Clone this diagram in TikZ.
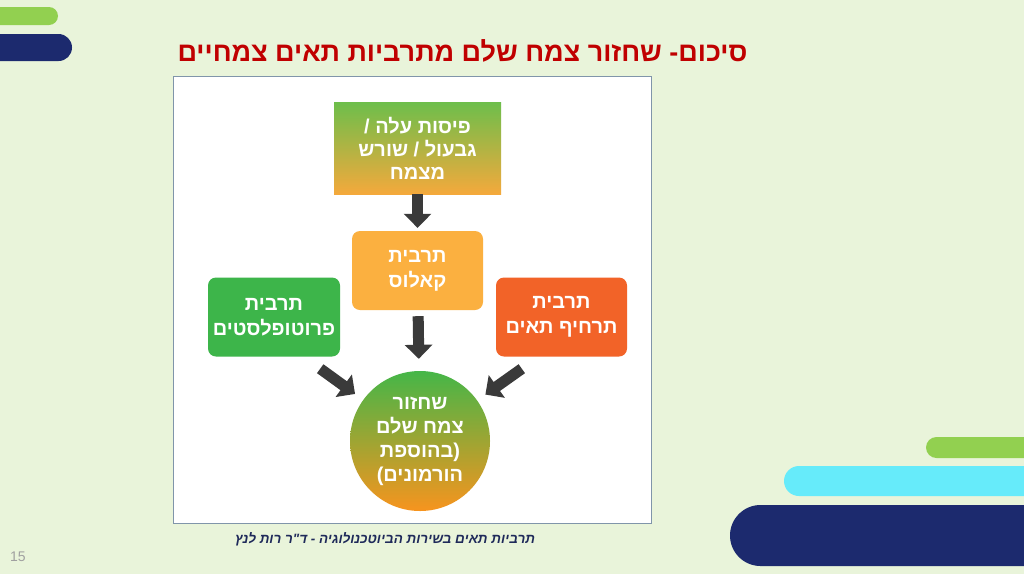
\documentclass[tikz,border=0pt]{standalone}
\usepackage{fontspec}
\setmainfont{Liberation Sans}
\newfontfamily\hebfont[Script=Hebrew]{Liberation Sans}
\TeXXeTstate=1
\usepackage{tikz}
\usetikzlibrary{arrows.meta, calc, positioning}
\definecolor{slidebg}{HTML}{E9F4DA}
\definecolor{barnavy}{HTML}{1C2A6E}
\definecolor{bargreen}{HTML}{92D050}
\definecolor{barcyan}{HTML}{66EBFA}
\definecolor{titlered}{HTML}{C00000}
\definecolor{capnavy}{HTML}{1F2A5A}
\definecolor{framegray}{HTML}{8095AA}
\definecolor{leafgreen}{HTML}{6DBE4B}
\definecolor{leaforange}{HTML}{F4A93C}
\definecolor{calorange}{HTML}{FBB040}
\definecolor{protogreen}{HTML}{3DB54A}
\definecolor{suspred}{HTML}{F26328}
\definecolor{regengreen}{HTML}{45B648}
\definecolor{regenorange}{HTML}{F7941E}
\definecolor{arrgray}{HTML}{3A3A3A}
\definecolor{pagegray}{HTML}{A0A0A0}

\begin{document}
\begin{tikzpicture}[x=1pt, y=-1pt,
  stagebox/.style = {rounded corners=8pt, minimum width=132pt, minimum height=79pt, align=center, text=white, font=\hebfont\bfseries\fontsize{20}{25}\selectfont},
  blockarr/.style = {-{Triangle[length=14pt,width=27pt]}, line width=11pt, color=arrgray},
  bar/.style      = {rounded corners=#1},
]
\useasboundingbox (0,0) rectangle (1024,574);
\fill[slidebg] (0,0) rectangle (1024,574);
% slide bars
\fill[bargreen, bar=9pt] (-20,7) rectangle (58,25);
\fill[barnavy, bar=13.5pt] (-20,34) rectangle (72,61);
\fill[bargreen, bar=10.5pt] (926,437) rectangle (1044,458);
\fill[barcyan, bar=15pt] (784,466) rectangle (1044,496);
\fill[barnavy, bar=30.5pt] (730,505) rectangle (1074,566);
% title
\node[anchor=east, text=titlered, font=\hebfont\bfseries\fontsize{27}{31}\selectfont] (title) at (751,51) {\beginR סיכום- שחזור צמח שלם מתרביות תאים צמחיים\endR};
% picture frame
\draw[framegray, fill=white, line width=0.8pt] (173,76) rectangle (651,523);
% stages
\node[stagebox, rounded corners=0pt, minimum width=167pt, minimum height=92pt, top color=leafgreen, bottom color=leaforange, font=\hebfont\bfseries\fontsize{20}{23}\selectfont] (explant) at (417.5,148) {\beginR פיסות עלה /\endR\\\beginR גבעול / שורש\endR\\\beginR מצמח\endR};
\node[stagebox, fill=calorange, minimum width=131pt] (callus) at (417.5,270.5) {\beginR תרבית\endR\\\beginR קאלוס\endR};
\node[stagebox, fill=protogreen] (proto) at (274,317) {\beginR תרבית\endR\\\beginR פרוטופלסטים\endR};
\node[stagebox, fill=suspred, minimum width=131pt] (susp) at (561.5,317) {\beginR תרבית\endR\\\beginR תרחיף תאים\endR};
\node[circle, minimum size=140pt, inner sep=0pt, align=center, top color=regengreen, bottom color=regenorange, text=white, font=\hebfont\bfseries\fontsize{20}{24}\selectfont] (plant) at (420,441) {\beginR שחזור\endR\\\beginR צמח שלם\endR\\\beginR בהוספת\endR(\\)\beginR הורמונים\endR};
% arrows
\coordinate (protoout) at ($(proto.south east)+(-20,12)$);
\coordinate (suspout) at ($(susp.south west)+(26,12)$);
\draw[blockarr, shorten >=3pt] (explant) -- (callus);
\draw[blockarr, shorten <=6pt, shorten >=12pt] (callus) -- (plant);
\draw[blockarr, shorten >=10pt] (protoout) -- (plant);
\draw[blockarr, shorten >=10pt] (suspout) -- (plant);
% caption and page number
\node[text=capnavy, font=\hebfont\bfseries\itshape\fontsize{13.5}{16}\selectfont] (caption) at (385,539) {\beginR תרביות תאים בשירות הביוטכנולוגיה - ד"ר רות לנץ\endR};
\node[text=pagegray, font=\fontsize{14}{16}\selectfont] (pagenum) at (18,557) {15};
\end{tikzpicture}
\end{document}
